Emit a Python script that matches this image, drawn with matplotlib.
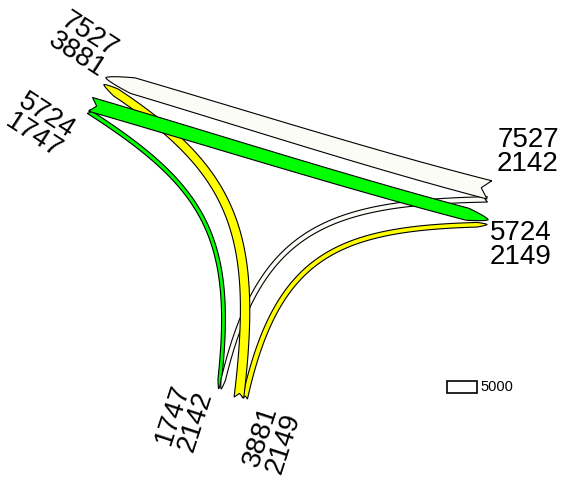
import numpy as np
import matplotlib
matplotlib.use("Agg")
import matplotlib.pyplot as plt
from matplotlib.patches import Polygon, Rectangle

# flows between three regions (origin -> destination)
regions = ["A", "B", "C"]
origins = ["A", "A", "B", "B", "C", "C"]
dests = ["B", "C", "A", "C", "A", "B"]
flows = [5724, 1747, 7527, 2142, 3881, 2149]
legend_value = 5000

colors = {"A": "#00ff00", "B": "#fcfcf6", "C": "#ffff00"}

# layout in pixel coordinates (y down)
in_port = {"A": (105, 80), "B": (488, 221), "C": (220, 389)}
out_port = {"A": (90, 106), "B": (489, 192), "C": (241, 398)}
# direction in which a curve leaves a node towards the other node, and its pull
node_dir = {("A", "B"): (0.96, 0.28), ("A", "C"): (0.84, 0.54),
            ("B", "A"): (-0.97, -0.25), ("B", "C"): (-1.0, 0.02),
            ("C", "A"): (0.12, -0.99), ("C", "B"): (0.22, -0.98)}
node_pull = {("A", "B"): 0.33, ("A", "C"): 0.45,
             ("B", "A"): 0.33, ("B", "C"): 0.5,
             ("C", "A"): 0.5, ("C", "B"): 0.5}
stack_dir = {"A": (-0.28, 0.96), "B": (-0.20, 0.98), "C": (0.99, 0.12)}
label_pos = {
    ("A", "in"): ((83, 45), -33), ("A", "out"): ((40, 126), -33),
    ("B", "out"): ((528, 152), 0), ("B", "in"): ((521, 245), 0),
    ("C", "in"): ((184, 418), 72), ("C", "out"): ((272, 440), 72),
}
scale = 0.0025


def unit(v):
    v = np.asarray(v, float)
    return v / np.hypot(*v)


def port_offsets(node, kind):
    """Offsets of each flow at a port, stacked across the port."""
    if kind == "out":
        idx = [i for i in range(len(flows)) if origins[i] == node]
        idx.sort(key=lambda i: dests[i])
        fac = 0.8
    else:
        idx = [i for i in range(len(flows)) if dests[i] == node]
        idx.sort(key=lambda i: origins[i])
        fac = 0.5
    widths = [flows[i] * scale * fac for i in idx]
    total = sum(widths)
    offs = {}
    cum = 0
    for i, w in zip(idx, widths):
        offs[i] = -total / 2 + cum + w / 2
        cum += w
    return idx, offs


def band(p0, p3, o, d, w):
    p0 = np.asarray(p0, float)
    p3 = np.asarray(p3, float)
    dist = np.hypot(*(p3 - p0))
    p1 = p0 + node_pull[(o, d)] * dist * unit(node_dir[(o, d)])
    p2 = p3 + node_pull[(d, o)] * dist * unit(node_dir[(d, o)])
    t = np.linspace(0, 1, 300)[:, None]
    pts = ((1 - t) ** 3 * p0 + 3 * (1 - t) ** 2 * t * p1
           + 3 * (1 - t) * t ** 2 * p2 + t ** 3 * p3)
    tan = np.gradient(pts, axis=0)
    tan /= np.hypot(tan[:, 0], tan[:, 1])[:, None]
    nrm = np.column_stack([-tan[:, 1], tan[:, 0]])
    seg = np.hypot(*np.diff(pts, axis=0).T)
    s = np.concatenate([[0], np.cumsum(seg)])
    L = s[-1]
    h = min(max(1.5 * w, 10), 0.3 * L)
    half = w * (1 - 0.15 * s / L) / 2
    head = s > L - h
    half_h = w * (1 - 0.15 * (L - h) / L) / 2
    half[head] = half_h * ((L - s[head]) / h) ** 0.7
    left = pts + nrm * half[:, None]
    right = pts - nrm * half[:, None]
    depth = 0.45 * w
    notch = np.array([np.interp(depth, s, pts[:, 0]),
                      np.interp(depth, s, pts[:, 1])])
    return np.vstack([left, right[::-1], notch[None, :]])


fig = plt.figure(figsize=(5.64, 4.78), dpi=100)
ax = fig.add_axes([0, 0, 1, 1])
ax.set_xlim(0, 564)
ax.set_ylim(478, 0)
ax.axis("off")

starts, ends = {}, {}
for node in regions:
    for kind, store, ports in (("out", starts, out_port), ("in", ends, in_port)):
        idx, offs = port_offsets(node, kind)
        for i in idx:
            store[i] = np.array(ports[node]) + offs[i] * np.array(stack_dir[node])

order = sorted(range(len(flows)), key=lambda i: flows[i])
for i in order:
    o, d = origins[i], dests[i]
    poly = band(starts[i], ends[i], o, d, flows[i] * scale)
    ax.add_patch(Polygon(poly, closed=True, facecolor=colors[o],
                         edgecolor="black", linewidth=0.8, zorder=2))

font = "Liberation Sans"
gap = 24
for (node, kind), (c, rot) in label_pos.items():
    idx, _ = port_offsets(node, kind)
    r = np.radians(rot)
    down = np.array([np.sin(r), np.cos(r)])
    n = len(idx)
    for k, i in enumerate(idx):
        p = np.array(c) + (k - (n - 1) / 2) * gap * down
        ax.text(p[0], p[1], str(flows[i]), rotation=rot, rotation_mode="anchor",
                ha="center", va="center", fontsize=20, family=font, zorder=3)

lh = legend_value * scale
ax.add_patch(Rectangle((447, 387 - lh / 2), 30, lh, facecolor="white",
                       edgecolor="black", linewidth=1.2, zorder=2))
ax.text(480, 387, str(legend_value), ha="left", va="center",
        fontsize=10.5, family=font)

fig.savefig("out.png", dpi=100)
